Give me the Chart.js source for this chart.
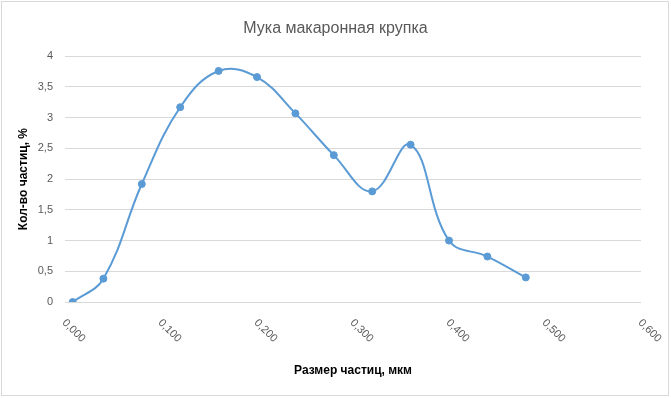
<!DOCTYPE html>
<html>
<head>
<meta charset="utf-8">
<script src="https://cdn.jsdelivr.net/npm/chart.js@4"></script>
<style>
  html, body { margin: 0; padding: 0; background: #ffffff; }
  #wrap { width: 671px; height: 398px; }
</style>
</head>
<body>
<div id="wrap"><canvas id="c" width="671" height="398"></canvas></div>
<script>
// Data
const sizes = [0.008, 0.04, 0.08, 0.12, 0.16, 0.20, 0.24, 0.28, 0.32, 0.36, 0.40, 0.44, 0.48];
const counts = [0.00, 0.38, 1.92, 3.17, 3.76, 3.66, 3.07, 2.39, 1.80, 2.56, 1.00, 0.74, 0.40];
const xTickValues = [0, 0.1, 0.2, 0.3, 0.4, 0.5, 0.6];
const xTickLabels = ['0,000', '0,100', '0,200', '0,300', '0,400', '0,500', '0,600'];
const yTickLabels = {0: '0', 0.5: '0,5', 1: '1', 1.5: '1,5', 2: '2', 2.5: '2,5', 3: '3', 3.5: '3,5', 4: '4'};

const points = sizes.map((s, i) => ({x: s, y: counts[i]}));

const frame = {
  id: 'frame',
  beforeDraw(chart) {
    const ctx = chart.ctx;
    ctx.save();
    ctx.fillStyle = '#ffffff';
    ctx.fillRect(0, 0, chart.width, chart.height);
    ctx.strokeStyle = '#d9d9d9';
    ctx.lineWidth = 1;
    ctx.strokeRect(1.5, 1.5, chart.width - 4, chart.height - 4);
    ctx.restore();
  },
  afterDraw(chart) {
    const ctx = chart.ctx;
    const xs = chart.scales.x;
    const yBase = chart.chartArea.bottom;
    ctx.save();
    ctx.fillStyle = '#595959';
    ctx.font = '11px "Liberation Sans", Arial, sans-serif';
    ctx.textAlign = 'left';
    ctx.textBaseline = 'middle';
    xTickValues.forEach((v, i) => {
      const px = xs.getPixelForValue(v);
      ctx.save();
      ctx.translate(px - 1, yBase + 19);
      ctx.rotate(Math.PI / 4);
      ctx.fillText(xTickLabels[i], 0, 0);
      ctx.restore();
    });
    ctx.restore();
  }
};

new Chart(document.getElementById('c'), {
  type: 'scatter',
  data: {
    datasets: [{
      data: points,
      showLine: true,
      tension: 0.4,
      borderColor: '#5b9bd5',
      backgroundColor: '#5b9bd5',
      borderWidth: 2,
      pointRadius: 3.5,
      pointHoverRadius: 3.5,
      pointBorderWidth: 1,
      pointBorderColor: '#5b9bd5'
    }]
  },
  options: {
    responsive: false,
    animation: false,
    layout: { padding: 0 },
    plugins: {
      legend: { display: false },
      tooltip: { enabled: false },
      title: {
        display: true,
        text: 'Мука макаронная крупка',
        color: '#595959',
        font: { family: '"Liberation Sans", Arial, sans-serif', size: 16, weight: 'normal' },
        padding: { top: 19, bottom: 18 }
      }
    },
    scales: {
      x: {
        type: 'linear',
        min: 0,
        max: 0.6,
        grid: { display: false },
        border: { display: false },
        ticks: { display: false },
        title: {
          display: true,
          text: 'Размер частиц, мкм',
          color: '#000000',
          font: { family: '"Liberation Sans", Arial, sans-serif', size: 12, weight: 'bold' },
          padding: { top: 0, bottom: 20 }
        },
        afterFit(s) { s.height = 96; }
      },
      y: {
        min: 0,
        max: 4,
        ticks: {
          stepSize: 0.5,
          color: '#595959',
          padding: 12,
          font: { family: '"Liberation Sans", Arial, sans-serif', size: 11 },
          callback: (v) => yTickLabels[v] !== undefined ? yTickLabels[v] : ''
        },
        grid: { color: '#d9d9d9', drawTicks: false, lineWidth: 1 },
        border: { display: false },
        title: {
          display: true,
          text: 'Кол-во частиц, %',
          color: '#000000',
          font: { family: '"Liberation Sans", Arial, sans-serif', size: 12, weight: 'bold' },
          padding: { top: 16, bottom: 0 }
        },
        afterFit(s) { s.width = 65; }
      },
      yRight: {
        position: 'right',
        min: 0,
        max: 4,
        display: true,
        grid: { display: false },
        border: { display: false },
        ticks: { display: false },
        afterFit(s) { s.width = 30; }
      }
    }
  },
  plugins: [frame]
});
</script>
</body>
</html>
